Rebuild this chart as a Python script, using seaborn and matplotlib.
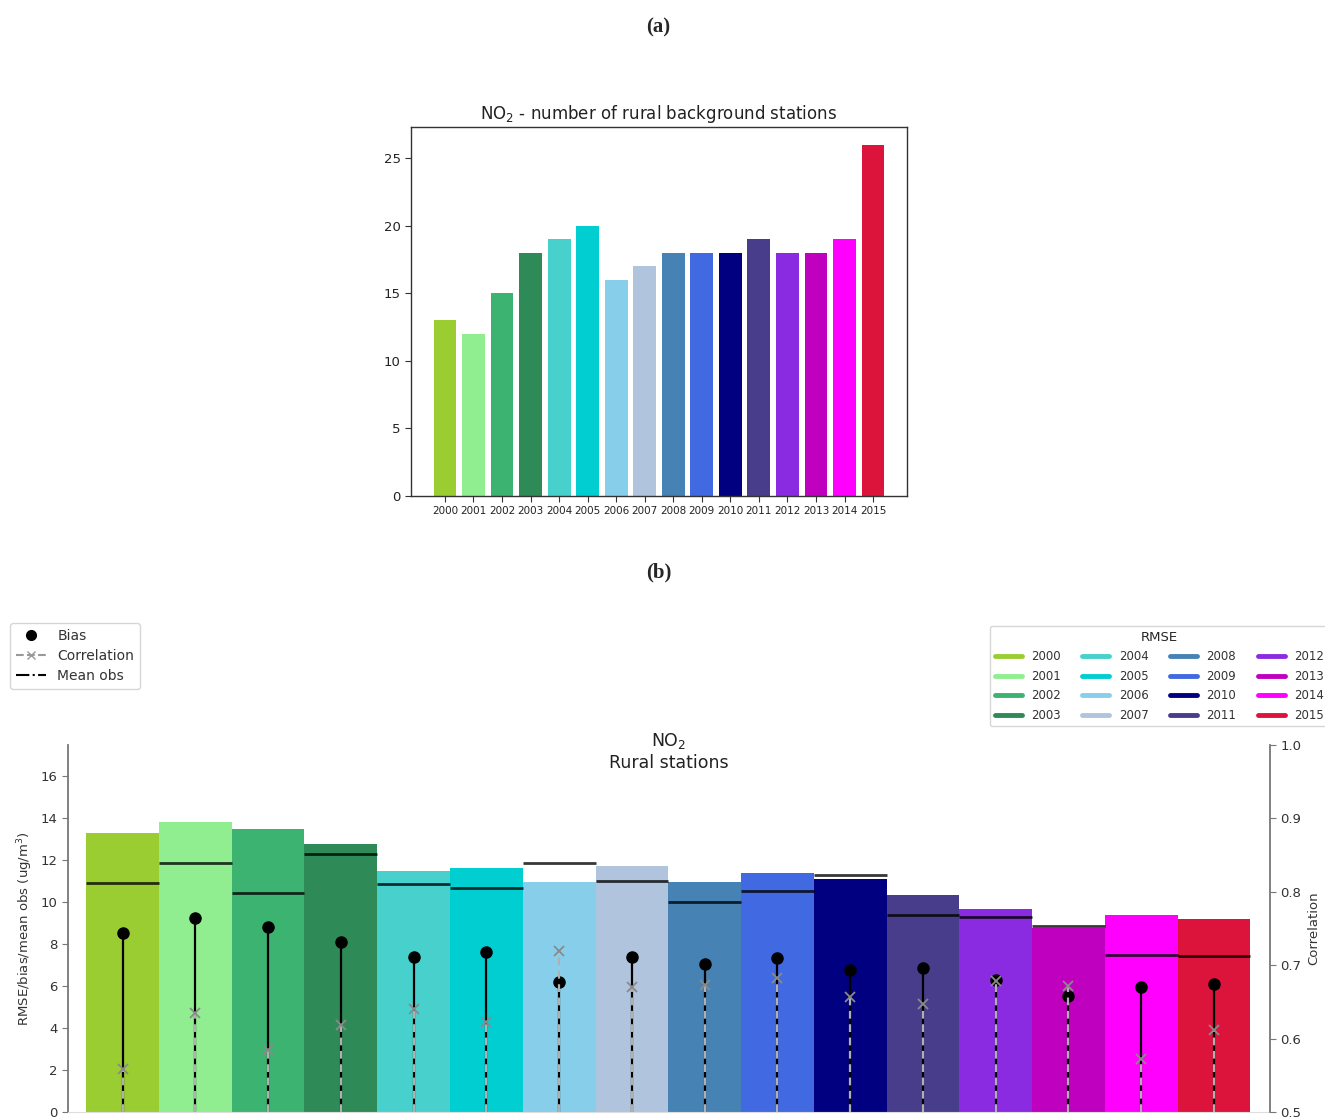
import matplotlib
matplotlib.use("Agg")
import matplotlib.pyplot as plt
import seaborn as sns
import pandas as pd
import numpy as np
from matplotlib.lines import Line2D

# ---------------- data ----------------
years = [str(y) for y in range(2000, 2016)]
year_colors = ['yellowgreen', 'lightgreen', 'mediumseagreen', 'seagreen',
               'mediumturquoise', 'darkturquoise', 'skyblue', 'lightsteelblue',
               'steelblue', 'royalblue', 'navy', 'darkslateblue',
               'blueviolet', 'm', 'magenta', 'crimson']
n_stations = [13, 12, 15, 18, 19, 20, 16, 17, 18, 18, 18, 19, 18, 18, 19, 26]
rmse = [13.31, 13.81, 13.48, 12.78, 11.48, 11.64, 10.96, 11.74,
        10.98, 11.42, 11.09, 10.36, 9.70, 8.77, 9.38, 9.22]
mean_obs = [10.90, 11.85, 10.42, 12.31, 10.88, 10.68, 11.86, 11.01,
            10.01, 10.52, 11.31, 9.38, 9.32, 8.85, 7.48, 7.44]
bias = [8.55, 9.25, 8.81, 8.13, 7.37, 7.63, 6.18, 7.41,
        7.06, 7.35, 6.78, 6.87, 6.29, 5.54, 5.94, 6.08]
correlation = [0.559, 0.635, 0.585, 0.618, 0.641, 0.622, 0.719, 0.670,
               0.673, 0.683, 0.657, 0.647, 0.678, 0.672, 0.572, 0.612]

df = pd.DataFrame({"year": years, "n": n_stations, "rmse": rmse,
                   "mean_obs": mean_obs, "bias": bias, "corr": correlation})
palette = dict(zip(years, year_colors))

sns.set_style("white")
plt.rcParams['font.family'] = ['DejaVu Sans']

W, H = 1325, 1120
fig = plt.figure(figsize=(W / 100, H / 100), dpi=100)

def frac(left, top, right, bottom):
    return [left / W, 1 - bottom / H, (right - left) / W, (bottom - top) / H]

# ---------------- panel (a) ----------------
fig.text(0.497, 1 - 27 / H, "(a)", fontsize=15, fontweight="bold",
         family=["Liberation Serif", "DejaVu Serif"], ha="center", va="center")
ax1 = fig.add_axes(frac(411, 127, 907, 496))
sns.barplot(data=df, x="year", y="n", hue="year", palette=palette,
            legend=False, width=0.8, saturation=1, linewidth=0, ax=ax1)
ax1.set_xlim(-1.19, 16.19)
ax1.set_ylim(0, 27.3)
ax1.set_yticks([0, 5, 10, 15, 20, 25])
ax1.set_xlabel("")
ax1.set_ylabel("")
ax1.set_title("NO$_2$ - number of rural background stations", fontsize=12,
              color="#222222")
for s in ax1.spines.values():
    s.set_visible(True)
    s.set_color("#333333")
    s.set_linewidth(1.0)
ax1.tick_params(axis="x", labelsize=7.5, length=4, direction="out",
                bottom=True, color="#333333", labelcolor="#222222")
ax1.tick_params(axis="y", labelsize=9.5, length=4, direction="out",
                left=True, color="#333333", labelcolor="#222222")

# ---------------- panel (b) ----------------
fig.text(0.497, 1 - 572 / H, "(b)", fontsize=15, fontweight="bold",
         family=["Liberation Serif", "DejaVu Serif"], ha="center", va="center")
ax = fig.add_axes(frac(68, 745, 1270, 1112))
sns.barplot(data=df, x="year", y="rmse", hue="year", palette=palette,
            legend=False, width=1.0, saturation=1, linewidth=0, ax=ax, zorder=1)
xs = np.arange(len(years))
ax.hlines(df["mean_obs"], xs - 0.5, xs + 0.5, color="black", linewidth=2.0,
          alpha=0.78, zorder=3)
ax.vlines(xs, 0, df["bias"], color="black", linewidth=1.6, zorder=4)
ax.plot(xs, df["bias"], linestyle="none", marker="o", markersize=8,
        color="black", zorder=5)
ax.set_xlim(-0.75, 15.77)
ax.set_ylim(0, 17.5)
ax.set_yticks(range(0, 17, 2))
ax.set_xlabel("")
ax.set_xticks([])
ax.set_ylabel("RMSE/bias/mean obs (ug/m$^3$)", fontsize=9.5, color="#333333")
ax.set_title("NO$_2$\nRural stations", fontsize=12.5, color="#222222", y=0.915)
ax.spines["top"].set_visible(False)
ax.spines["right"].set_visible(False)
ax.spines["left"].set_color("#777777")
ax.spines["left"].set_linewidth(1.3)
ax.spines["bottom"].set_color("#dddddd")
ax.tick_params(axis="y", labelsize=9.5, length=4, left=True, direction="out",
               color="#777777", labelcolor="#333333")

ax2 = ax.twinx()
ax2.vlines(xs, 0.5, df["corr"], color="#b0b0b0", linewidth=1.6,
           linestyles=(0, (3.5, 2.5)), zorder=2)
ax2.plot(xs, df["corr"], linestyle="none", marker="x", markersize=7,
         markeredgewidth=1.3, color="#8a8a8a", zorder=3)
ax2.set_ylim(0.5, 1.0)
ax2.set_yticks([0.5, 0.6, 0.7, 0.8, 0.9, 1.0])
ax2.set_ylabel("Correlation", fontsize=9.5, color="#333333")
for k in ["top", "left", "bottom"]:
    ax2.spines[k].set_visible(False)
ax2.spines["right"].set_color("#777777")
ax2.spines["right"].set_linewidth(1.3)
ax2.tick_params(axis="y", labelsize=9.5, length=4, right=True, direction="out",
                color="#777777", labelcolor="#333333")

# legends
h_stats = [Line2D([], [], color="black", marker="o", linestyle="none", markersize=7),
           Line2D([], [], color="#999999", marker="x", linestyle="--", markersize=6),
           Line2D([], [], color="black", linestyle="-.", linewidth=1.5)]
fig.legend(h_stats, ["Bias", "Correlation", "Mean obs"], loc="upper left",
           bbox_to_anchor=(10 / W, 1 - 623 / H), borderaxespad=0, fontsize=10,
           handlelength=2.2, labelspacing=0.45, labelcolor="#333333")

h_years = [Line2D([], [], color=c, linewidth=3.5) for c in year_colors]
fig.legend(h_years, years, loc="upper left", ncol=4, title="RMSE",
           bbox_to_anchor=(990 / W, 1 - 626 / H), borderaxespad=0, fontsize=8.5,
           title_fontsize=9.5, handlelength=2.3, labelspacing=0.55,
           columnspacing=1.8, labelcolor="#333333")

fig.savefig("out.png", dpi=100)
